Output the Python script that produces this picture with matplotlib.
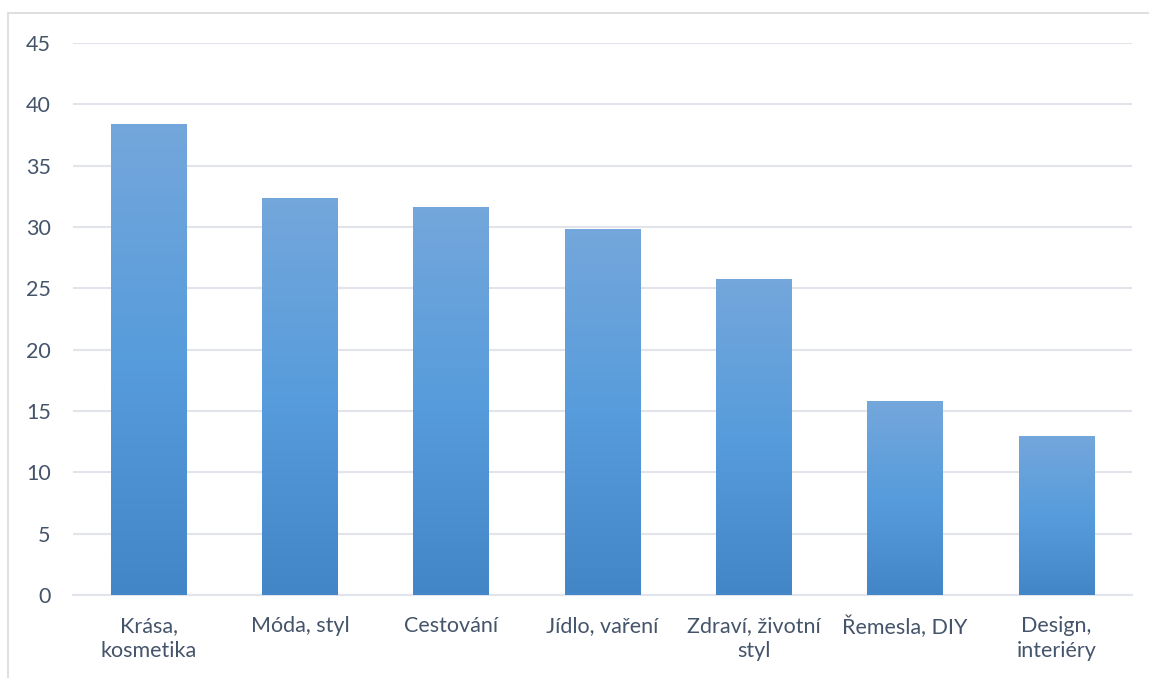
import matplotlib
matplotlib.use("Agg")
import matplotlib.pyplot as plt
import numpy as np
from matplotlib.colors import LinearSegmentedColormap
from matplotlib.patches import Rectangle

categories = ["Krása,\nkosmetika", "Móda, styl", "Cestování", "Jídlo, vaření",
              "Zdraví, životní\nstyl", "Řemesla, DIY", "Design,\ninteriéry"]
values = [38.4, 32.4, 31.6, 29.8, 25.8, 15.8, 13.0]
yticks = [0, 5, 10, 15, 20, 25, 30, 35, 40, 45]

plt.rcParams['font.family'] = ['Lato', 'DejaVu Sans']
text_color = '#44546A'
grid_color = '#E1E4EA'

fig = plt.figure(figsize=(11.49, 6.78), dpi=100)
W, H = 1149, 678
ax = fig.add_axes([73 / W, 1 - 595 / H, (1132 - 73) / W, (595 - 43) / H])

# chart border (top/left visible)
border = Rectangle((8 / W, -0.1), 1.2, 1 - 13 / H + 0.1, transform=fig.transFigure,
                   fill=False, edgecolor='#D9D9D9', linewidth=1.2)
fig.patches.append(border)

x = np.arange(len(categories))
bars = ax.bar(x, values, width=0.5, color='none', edgecolor='none', zorder=3)

cmap = LinearSegmentedColormap.from_list(
    'grad', [(0.0, '#4386C8'), (0.5, '#579CDC'), (1.0, '#74A7DB')])
grad = np.linspace(0, 1, 256).reshape(-1, 1)
for b in bars:
    x0, y0 = b.get_x(), b.get_y()
    w, h = b.get_width(), b.get_height()
    im = ax.imshow(grad, cmap=cmap, origin='lower', aspect='auto',
                   extent=[x0, x0 + w, y0, y0 + h], zorder=3)
    im.set_clip_path(b)

ax.set_xlim(-0.5, len(categories) - 0.5)
ax.set_ylim(0, 45)
ax.set_yticks(yticks)
ax.yaxis.grid(True, color=grid_color, linewidth=1.5, zorder=0)
ax.set_axisbelow(True)
for s in ['top', 'right', 'left']:
    ax.spines[s].set_visible(False)
ax.spines['bottom'].set_color(grid_color)
ax.spines['bottom'].set_linewidth(1.5)
ax.set_xticks(x)
ax.set_xticklabels(categories, fontsize=15.5, color=text_color, linespacing=1.3)
ax.tick_params(axis='x', length=0, pad=15)
ax.tick_params(axis='y', length=0, pad=16, labelsize=15.5, labelcolor=text_color)

fig.savefig('out.png', dpi=100)
